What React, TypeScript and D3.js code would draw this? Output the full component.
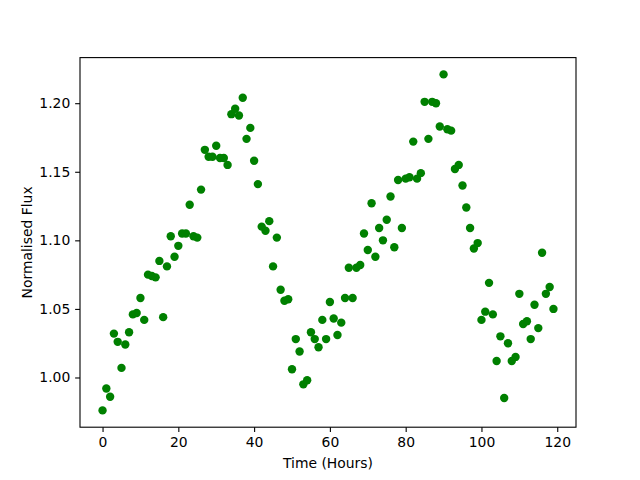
import { useEffect, useRef } from "react";
import * as d3 from "d3";

// flux readings, one per hour (0..119)
const hours: number[] = d3.range(0, 120);
const flux: number[] = [
  0.976, 0.992, 0.986, 1.032, 1.026, 1.007, 1.024, 1.033, 1.046, 1.047,
  1.058, 1.042, 1.075, 1.074, 1.073, 1.085, 1.044, 1.081, 1.103, 1.088,
  1.096, 1.105, 1.105, 1.126, 1.103, 1.102, 1.137, 1.166, 1.161, 1.161,
  1.169, 1.16, 1.16, 1.155, 1.192, 1.196, 1.191, 1.204, 1.174, 1.182,
  1.158, 1.141, 1.11, 1.107, 1.114, 1.081, 1.102, 1.064, 1.056, 1.057,
  1.006, 1.028, 1.019, 0.995, 0.998, 1.033, 1.028, 1.022, 1.042, 1.028,
  1.055, 1.043, 1.031, 1.04, 1.058, 1.08, 1.058, 1.08, 1.082, 1.105,
  1.093, 1.127, 1.088, 1.109, 1.1, 1.115, 1.132, 1.095, 1.144, 1.109,
  1.145, 1.146, 1.172, 1.145, 1.149, 1.201, 1.174, 1.201, 1.2, 1.183,
  1.221, 1.181, 1.18, 1.152, 1.155, 1.14, 1.124, 1.109, 1.094, 1.098,
  1.042, 1.048, 1.069, 1.046, 1.012, 1.03, 0.985, 1.025, 1.012, 1.015,
  1.061, 1.039, 1.041, 1.028, 1.053, 1.036, 1.091, 1.061, 1.066, 1.05,
];
const xTicks: number[] = [0, 20, 40, 60, 80, 100, 120];
const yTicks: number[] = [1.0, 1.05, 1.1, 1.15, 1.2];

const App = () => {
  const ref = useRef<SVGSVGElement>(null);

  useEffect(() => {
    const width = 640,
      height = 480;
    const left = 80,
      right = 576,
      top = 57.6,
      bottom = 427.2;
    const font = "DejaVu Sans, sans-serif";
    const fontSize = 13.9;
    const tickLen = 4.86;

    const svg = d3.select(ref.current);
    svg.selectAll("*").remove();

    // matplotlib style 5% margins
    const xExt = d3.extent(hours) as [number, number];
    const yExt = d3.extent(flux) as [number, number];
    const xPad = (xExt[1] - xExt[0]) * 0.05;
    const yPad = (yExt[1] - yExt[0]) * 0.05;

    const x = d3
      .scaleLinear()
      .domain([xExt[0] - xPad, xExt[1] + xPad])
      .range([left, right]);
    const y = d3
      .scaleLinear()
      .domain([yExt[0] - yPad, yExt[1] + yPad])
      .range([bottom, top]);

    svg
      .append("rect")
      .attr("width", width)
      .attr("height", height)
      .attr("fill", "white");

    // points
    svg
      .append("g")
      .selectAll("circle")
      .data(flux)
      .join("circle")
      .attr("cx", (d, i) => x(hours[i]))
      .attr("cy", (d) => y(d))
      .attr("r", 4.2)
      .attr("fill", "#008000");

    // frame
    svg
      .append("rect")
      .attr("x", left)
      .attr("y", top)
      .attr("width", right - left)
      .attr("height", bottom - top)
      .attr("fill", "none")
      .attr("stroke", "black")
      .attr("stroke-width", 1.1);

    // x axis
    const gx = svg
      .append("g")
      .attr("transform", `translate(0,${bottom})`)
      .call(
        d3
          .axisBottom(x)
          .tickValues(xTicks)
          .tickSize(tickLen)
          .tickPadding(4.9)
          .tickFormat(d3.format("d"))
      );
    gx.select(".domain").remove();

    // y axis
    const gy = svg
      .append("g")
      .attr("transform", `translate(${left},0)`)
      .call(
        d3
          .axisLeft(y)
          .tickValues(yTicks)
          .tickSize(tickLen)
          .tickPadding(4.9)
          .tickFormat(d3.format(".2f"))
      );
    gy.select(".domain").remove();

    svg
      .selectAll(".tick line")
      .attr("stroke", "black")
      .attr("stroke-width", 1.1);
    svg
      .selectAll(".tick text")
      .attr("fill", "black")
      .style("font-family", font)
      .style("font-size", `${fontSize}px`);

    // labels
    svg
      .append("text")
      .attr("x", (left + right) / 2)
      .attr("y", 468)
      .attr("text-anchor", "middle")
      .style("font-family", font)
      .style("font-size", `${fontSize}px`)
      .text("Time (Hours)");

    svg
      .append("text")
      .attr("transform", `translate(32,${(top + bottom) / 2}) rotate(-90)`)
      .attr("text-anchor", "middle")
      .style("font-family", font)
      .style("font-size", `${fontSize}px`)
      .text("Normalised Flux");
  }, []);

  return (
    <svg
      ref={ref}
      width={640}
      height={480}
      style={{ position: "absolute", left: 0, top: 0 }}
    />
  );
};

export default App;
